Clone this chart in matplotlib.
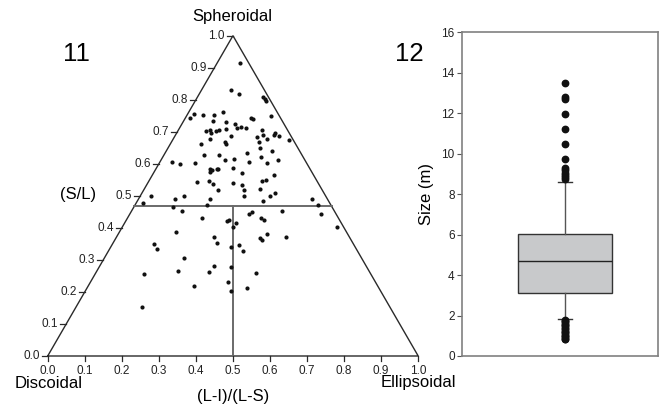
import matplotlib
matplotlib.use("Agg")
import matplotlib.pyplot as plt
import numpy as np

plt.rcParams['font.family'] = ['Liberation Sans', 'DejaVu Sans']

# ---- Panel 11: shape triangle data ----
# (L-I)/(L-S) position on the base axis and S/L value (left axis)
li_ls = [0.519, 0.495, 0.515, 0.581, 0.586, 0.589, 0.394, 0.385, 0.419, 0.449,
         0.474, 0.550, 0.555, 0.604, 0.447, 0.482, 0.506, 0.512, 0.521, 0.536,
         0.482, 0.427, 0.438, 0.441, 0.454, 0.462, 0.439, 0.495, 0.578, 0.566,
         0.580, 0.592, 0.610, 0.614, 0.625, 0.650, 0.479, 0.482, 0.415, 0.571,
         0.572, 0.605, 0.537, 0.422, 0.462, 0.577, 0.479, 0.504, 0.622, 0.335,
         0.357, 0.397, 0.543, 0.591, 0.439, 0.444, 0.456, 0.460, 0.439, 0.501,
         0.525, 0.611, 0.578, 0.588, 0.435, 0.447, 0.403, 0.500, 0.524, 0.460,
         0.531, 0.531, 0.574, 0.600, 0.614, 0.279, 0.343, 0.368, 0.438, 0.581,
         0.714, 0.257, 0.429, 0.730, 0.337, 0.362, 0.417, 0.485, 0.489, 0.508,
         0.501, 0.542, 0.551, 0.577, 0.585, 0.633, 0.737, 0.782, 0.345, 0.450,
         0.457, 0.572, 0.578, 0.591, 0.642, 0.288, 0.295, 0.495, 0.516, 0.528,
         0.367, 0.259, 0.353, 0.435, 0.450, 0.494, 0.561, 0.394, 0.487, 0.495,
         0.537, 0.255]
s_l = [0.914, 0.832, 0.818, 0.809, 0.803, 0.797, 0.756, 0.742, 0.753, 0.753,
       0.763, 0.744, 0.739, 0.750, 0.733, 0.731, 0.724, 0.713, 0.716, 0.712,
       0.710, 0.701, 0.706, 0.695, 0.701, 0.707, 0.678, 0.688, 0.707, 0.683,
       0.690, 0.679, 0.689, 0.696, 0.688, 0.673, 0.667, 0.663, 0.662, 0.667,
       0.648, 0.639, 0.633, 0.626, 0.627, 0.620, 0.613, 0.614, 0.613, 0.607,
       0.600, 0.603, 0.605, 0.603, 0.585, 0.581, 0.583, 0.584, 0.576, 0.586,
       0.572, 0.566, 0.546, 0.549, 0.547, 0.537, 0.542, 0.541, 0.535, 0.518,
       0.517, 0.500, 0.521, 0.498, 0.509, 0.500, 0.490, 0.498, 0.489, 0.485,
       0.491, 0.479, 0.471, 0.472, 0.465, 0.454, 0.432, 0.422, 0.425, 0.415,
       0.404, 0.442, 0.451, 0.430, 0.424, 0.453, 0.442, 0.404, 0.387, 0.372,
       0.353, 0.367, 0.361, 0.380, 0.370, 0.349, 0.334, 0.340, 0.346, 0.328,
       0.307, 0.257, 0.265, 0.261, 0.280, 0.279, 0.260, 0.219, 0.230, 0.204,
       0.211, 0.152]
divider_sl = 0.467
divider_x = 0.5
tri_ticks = [0.0, 0.1, 0.2, 0.3, 0.4, 0.5, 0.6, 0.7, 0.8, 0.9, 1.0]
tri_ticklabels = ['0.0', '0.1', '0.2', '0.3', '0.4', '0.5', '0.6', '0.7', '0.8', '0.9', '1.0']

# ---- Panel 12: size box plot ----
size_q1 = 3.10
size_median = 4.68
size_q3 = 6.05
size_whislo = 1.81
size_whishi = 8.58
size_fliers_high = [13.48, 12.79, 12.68, 11.96, 11.22, 10.48, 9.72,
                    9.30, 9.18, 9.05, 8.95, 8.85, 8.75]
size_fliers_low = [1.78, 1.72, 1.66, 1.60, 1.53, 1.46, 1.40, 1.33, 1.26,
                   1.19, 1.12, 1.05, 0.98, 0.92, 0.86, 0.82]
size_ticks = [0, 2, 4, 6, 8, 10, 12, 14, 16]

W, H = 663, 405
fig = plt.figure(figsize=(W / 100, H / 100), dpi=100)

# triangle axes: covers left 450 px of figure
ax = fig.add_axes([0, 0, 450 / W, 1])
x0_px, unit_x = 47.7, 370.5      # pixel of X=0 and pixels per unit
y0_px, unit_y = 49.0, 320.3      # pixel (from bottom) of S/L=0 and pixels per unit
ax.set_xlim(-x0_px / unit_x, (450 - x0_px) / unit_x)
ax.set_ylim(-y0_px / unit_y, (H - y0_px) / unit_y)
ax.axis('off')

edge_col = '#2a2a2a'
ax.plot([0, 0.5, 1, 0], [0, 1, 0, 0], color=edge_col, lw=1.0, solid_joinstyle='miter')

# divider lines
ax.plot([divider_sl / 2, 1 - divider_sl / 2], [divider_sl, divider_sl], color='#6a6a6a', lw=1.4)
ax.plot([divider_x, divider_x], [0, divider_sl], color='#6a6a6a', lw=1.4)

tick_fs = 8.5
# left-edge ticks (S/L)
dx_tick = 6 / unit_x
dx_lab = 8 / unit_x
for v, lab in zip(tri_ticks, tri_ticklabels):
    ax.plot([v / 2 - dx_tick, v / 2], [v, v], color=edge_col, lw=0.9)
    ax.text(v / 2 - dx_lab, v, lab, ha='right', va='center', fontsize=tick_fs, color='#222222')
# base ticks
dy_tick = 5 / unit_y
dy_lab = 8.5 / unit_y
for v, lab in zip(tri_ticks, tri_ticklabels):
    ax.plot([v, v], [0, -dy_tick], color=edge_col, lw=0.9)
    ax.text(v, -dy_lab, lab, ha='center', va='top', fontsize=tick_fs, color='#222222')

ax.scatter(li_ls, s_l, s=9, color='#111111', zorder=5, linewidths=0)

def px(xp, yp_top):
    return ((xp - x0_px) / unit_x, (H - yp_top - y0_px) / unit_y)

lab_fs = 12
ax.text(*px(232, 16), 'Spheroidal', ha='center', va='center', fontsize=lab_fs)
ax.text(*px(76, 54), '11', ha='center', va='center', fontsize=18.5)
ax.text(*px(409.5, 54), '12', ha='center', va='center', fontsize=18.5)
ax.text(*px(78, 194), '(S/L)', ha='center', va='center', fontsize=lab_fs)
ax.text(*px(48.5, 383), 'Discoidal', ha='center', va='center', fontsize=lab_fs)
ax.text(*px(233, 396), '(L-I)/(L-S)', ha='center', va='center', fontsize=lab_fs)
ax.text(*px(418, 383), 'Ellipsoidal', ha='center', va='center', fontsize=lab_fs)

# box plot axes
ax2 = fig.add_axes([462.3 / W, (H - 356) / H, 195.4 / W, 323.7 / H])
stats = [dict(med=size_median, q1=size_q1, q3=size_q3, whislo=size_whislo,
              whishi=size_whishi, fliers=size_fliers_high + size_fliers_low)]
ax2.bxp(stats, positions=[0.525], widths=0.48, capwidths=0.075, patch_artist=True,
        boxprops=dict(facecolor='#c8c9cb', edgecolor='#333333', linewidth=1.0),
        medianprops=dict(color='#222222', linewidth=1.0),
        whiskerprops=dict(color='#555555', linewidth=1.0),
        capprops=dict(color='#333333', linewidth=1.0),
        flierprops=dict(marker='o', markerfacecolor='#111111', markeredgecolor='#111111',
                        markersize=4.6))
ax2.set_xlim(0, 1)
ax2.set_ylim(0, 16)
ax2.set_xticks([])
ax2.set_yticks(size_ticks)
ax2.set_yticklabels([str(t) for t in size_ticks], fontsize=tick_fs, color='#222222')
ax2.tick_params(axis='y', length=3.5, width=0.8, color='#555555', pad=2)
for sp in ax2.spines.values():
    sp.set_color('#808080')
    sp.set_linewidth(1.2)
ax2.set_ylabel('Size (m)', fontsize=lab_fs, labelpad=5)

fig.savefig('out.png', dpi=100)
